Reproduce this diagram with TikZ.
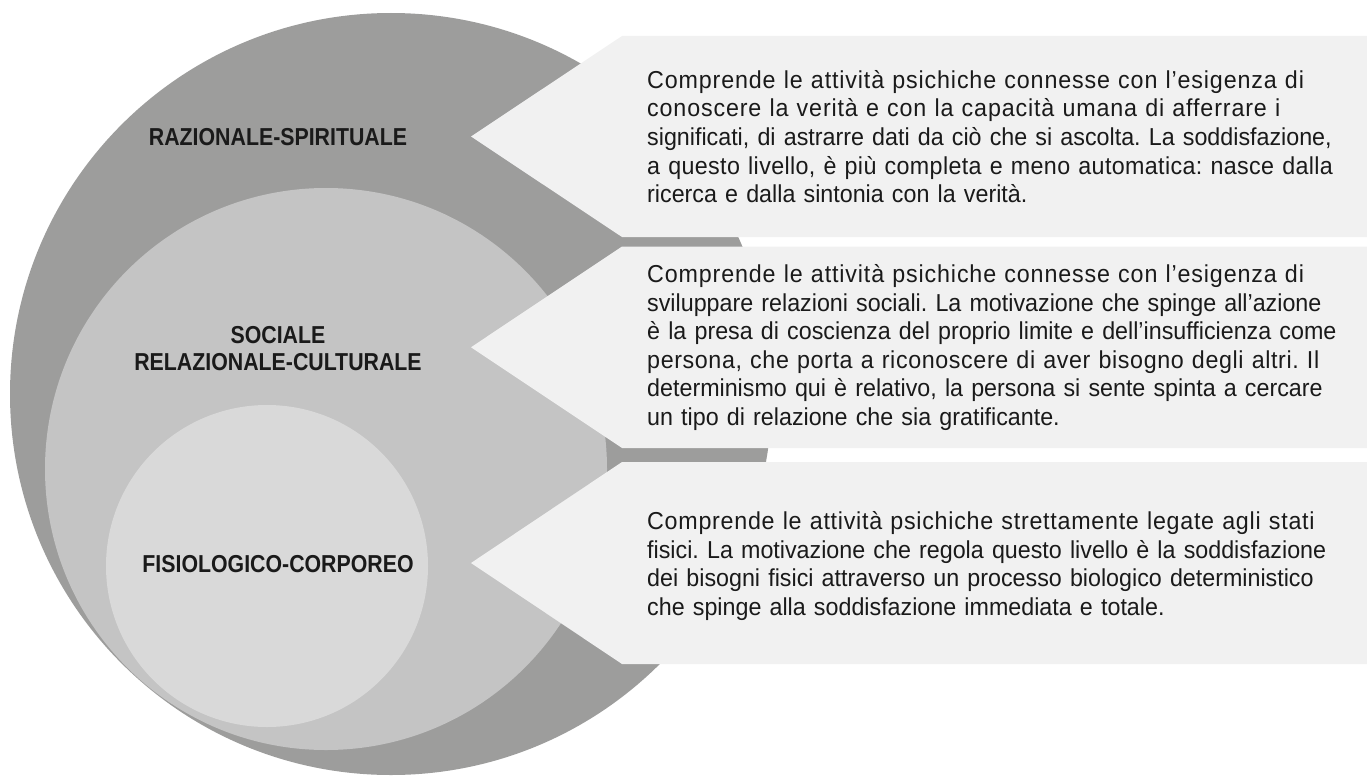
\documentclass[tikz,border=0pt]{standalone}
\usepackage{fontspec}
\setmainfont{Liberation Sans}[FakeStretch=0.95]
\newfontfamily\lblfont{Liberation Sans}[FakeStretch=0.87]
\definecolor{ringA}{HTML}{9D9D9C}
\definecolor{ringB}{HTML}{C4C4C4}
\definecolor{ringC}{HTML}{D9D9D9}
\definecolor{boxfill}{HTML}{F1F1F1}
\definecolor{txt}{HTML}{1A1A1A}
\newcommand\jl[1]{\makebox[693pt][s]{#1}\\}
\newcommand\jls[2]{\makebox[693pt][s]{\addfontfeature{LetterSpace=#1}#2}\\}
\frenchspacing
\begin{document}
\begin{tikzpicture}[x=1pt,y=-1pt,
  ring/.style={circle, inner sep=0pt, draw=none},
  lbl/.style={font=\lblfont\bfseries\fontsize{24.5}{27}\selectfont, align=center, text=txt, inner sep=0pt},
  desc/.style={font=\fontsize{24.5}{28.6}\selectfont, text width=693pt, align=left, anchor=west, inner sep=0pt, text=txt},
  callout/.style={fill=boxfill}]
\useasboundingbox (0,0) rectangle (1367,776);
% nested circles
\node[ring, fill=ringA, minimum size=762pt] (outer) at (391,394) {};
\node[ring, fill=ringB, minimum size=562pt] (middle) at (326,469) {};
\node[ring, fill=ringC, minimum size=322pt] (inner) at (267,566) {};
% callout boxes
\coordinate (t1) at (471,136.5);
\coordinate (t2) at (471,347.25);
\coordinate (t3) at (471,563);
\fill[callout] (622,36) -- (t1) -- (622,237) -- (1367,237) -- (1367,36) -- cycle;
\fill[callout] (622,246.5) -- (t2) -- (622,448) -- (1367,448) -- (1367,246.5) -- cycle;
\fill[callout] (622,462) -- (t3) -- (622,664) -- (1367,664) -- (1367,462) -- cycle;
% labels
\node[lbl] (l1) at (278,137) {RAZIONALE-SPIRITUALE};
\node[lbl] (l2) at (278,348.5) {SOCIALE\\RELAZIONALE-CULTURALE};
\node[lbl] (l3) at (278,564) {FISIOLOGICO-CORPOREO};
% descriptions
\node[desc] (d1) at (647,136.5) {%
\jls{3.5}{Comprende le attività psichiche connesse con l’esigenza di}
\jls{3.5}{conoscere la verità e con la capacità umana di afferrare i}
\jl{significati, di astrarre dati da ciò che si ascolta. La soddisfazione,}
\jls{1.5}{a questo livello, è più completa e meno automatica: nasce dalla}
ricerca e dalla sintonia con la verità.};
\node[desc] (d2) at (647,347.5) {%
\jls{3.5}{Comprende le attività psichiche connesse con l’esigenza di}
\jl{sviluppare relazioni sociali. La motivazione che spinge all’azione}
\jl{è la presa di coscienza del proprio limite e dell’insufficienza come}
\jls{2.5}{persona, che porta a riconoscere di aver bisogno degli altri. Il}
\jl{determinismo qui è relativo, la persona si sente spinta a cercare}
un tipo di relazione che sia gratificante.};
\node[desc] (d3) at (647,566) {%
\jls{3}{Comprende le attività psichiche strettamente legate agli stati}
\jl{fisici. La motivazione che regola questo livello è la soddisfazione}
\jl{dei bisogni fisici attraverso un processo biologico deterministico}
che spinge alla soddisfazione immediata e totale.};
\end{tikzpicture}
\end{document}
